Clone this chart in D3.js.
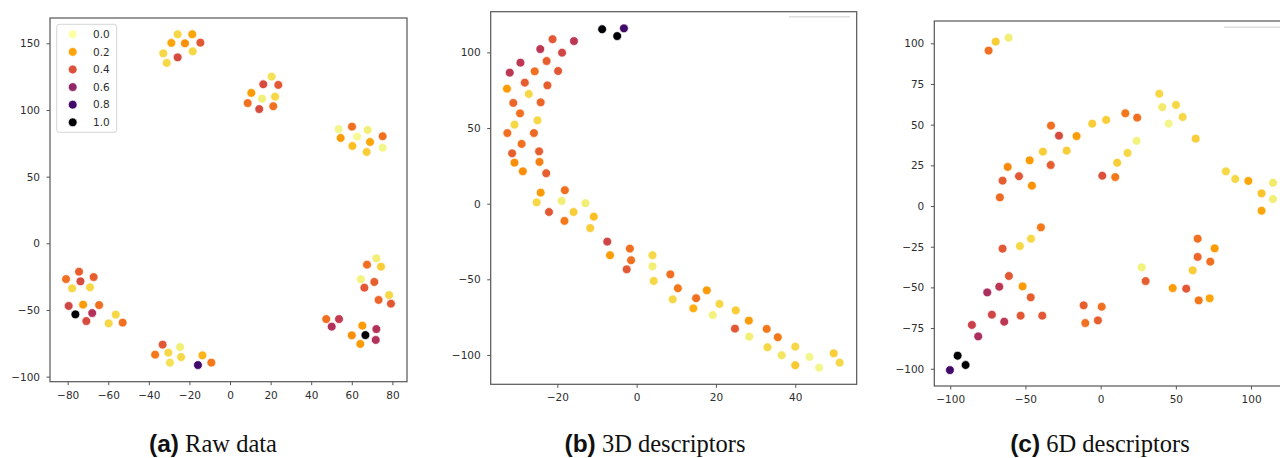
<!DOCTYPE html>
<html>
<head>
<meta charset="utf-8">
<script src="https://cdn.jsdelivr.net/npm/d3@7"></script>
<style>
  html, body { margin: 0; padding: 0; background: #fff; }
  svg { display: block; }
</style>
</head>
<body>
<div id="chart"></div>
<script>
// panel (a) raw data
const rawX = [-25.8,-18.6,-28.9,-22.2,-14.6,-32.9,-18.4,-25.8,-31.2,
  20.5,16.4,23.8,10.5,15.8,22.2,8.7,14.4,21.3,
  53.5,60.1,67.8,54.5,62.6,75.2,60.3,69,67.3,75.2,
  -80.8,-74.4,-73.7,-67.2,-77.8,-69,-79.5,-72.4,-64.5,-76.2,-67.9,-70.8,-56.3,-59.8,-52.9,
  -33.2,-36.9,-30.4,-24.6,-29.6,-24.1,-13.6,-15.8,-9.2,
  72.1,67.5,74.4,64.5,71.1,66.2,78.4,73.2,79.3,47.4,53.7,50.1,65.2,72.1,60,66.7,64.2,71.8];
const rawY = [156.8,156.8,150.3,150,150.5,142.5,144,139.5,135.3,
  125,119.3,118.8,112.8,108.5,110,105.2,100.7,102.8,
  85.7,87.5,85,79,80,80.3,73,76,68.5,71.7,
  -26.8,-21.3,-28.5,-25.3,-33.8,-33,-47,-46,-46.3,-53.3,-52.3,-58.3,-53.5,-60,-59.5,
  -76,-83.5,-82,-77.8,-89.5,-85.3,-84,-91.3,-89.5,
  -11.3,-16,-17.5,-27,-29,-33.3,-38.8,-42.5,-45.3,-56.8,-56.8,-62.5,-61.8,-64.3,-69,-68.8,-75.5,-72.5];
const rawV = [0.1,0.2,0.2,0.25,0.38,0.1,0.1,0.42,0.1,
  0.08,0.42,0.38,0.22,0.05,0.1,0.32,0.42,0.32,
  0.03,0.32,0.05,0.22,0.02,0.32,0.15,0.2,0.12,0.03,
  0.32,0.36,0.42,0.36,0.1,0.1,0.44,0.22,0.32,1,0.52,0.42,0.1,0.1,0.32,
  0.38,0.3,0.1,0.05,0.08,0.1,0.17,0.8,0.3,
  0.05,0.32,0.12,0.04,0.36,0.38,0.1,0.34,0.38,0.32,0.48,0.52,0.22,0.52,0.25,1,0.22,0.52];

// panel (b) 3D descriptors
const d3dX = [-8.7,-4.9,-3.2,-21.2,-15.8,-24.3,-18.8,-29.3,-22.7,-32,-25.7,-19.8,-28.2,-22.5,-32.7,-27.2,
  -31.1,-24.2,-29.4,-30.8,-25,-32.6,-25.9,-29,-24.6,-31.4,-30.8,-24.5,-28.7,-22.8,-24.2,-18.1,
  -25.2,-18.9,-12.9,-22.1,-15.9,-18.2,-10.8,-11.7,-7.4,-1.7,-6.7,-1.4,-2.5,4,4,4.3,8.5,10.4,
  17.7,9.1,15,20.9,14.3,19.2,25,28.3,24.8,28.4,32.8,35.6,33,36.6,40,40,43.6,46,49.7,51.2];
const d3dY = [115.3,110.8,115.9,108.7,107.5,102.2,99.8,93.2,94.3,86.6,87.5,87.7,80,78.2,76,72.5,
  66.6,67,59.7,52.2,55.1,46.7,46.7,39.5,34.6,33.3,27.1,27.6,21.4,20.1,7.3,8.9,
  0.9,1.8,0.3,-5.5,-5.5,-11.4,-8.6,-16.1,-25.1,-29.7,-34.1,-37.4,-43.4,-34.1,-41.4,-51.1,-46.7,-55.9,
  -57.3,-63.2,-62.5,-66.3,-69.2,-73.6,-70.5,-77.3,-82.6,-87.9,-82.8,-88.3,-94.9,-100.2,-94.5,-106.8,-101.3,-108.4,-98.9,-105.1];
const d3dV = [1,1,0.8,0.38,0.5,0.5,0.44,0.5,0.36,0.5,0.32,0.38,0.36,0.36,0.22,0.1,
  0.34,0.34,0.32,0.1,0.1,0.32,0.33,0.32,0.36,0.36,0.25,0.28,0.25,0.36,0.22,0.32,
  0.1,0.05,0.05,0.38,0.12,0.3,0.15,0.12,0.44,0.32,0.22,0.32,0.38,0.1,0.05,0.1,0.32,0.3,
  0.22,0.1,0.32,0.1,0.18,0.04,0.12,0.22,0.38,0.05,0.3,0.3,0.1,0.07,0.1,0.13,0.03,0.03,0.12,0.1];

// panel (c) 6D descriptors
const d6dX = [-74.5,-69.8,-61.2,39,41,50.1,45.2,54.5,63.2,16.4,24.3,-5.6,3.7,-33,-27.7,-16,-22.6,-38.4,
  -47.2,-61.8,-33.2,-65.2,-54.3,-45.7,-67,1.1,9.7,11,17.9,23.9,83.3,89.5,98.2,107,114.6,114.6,107,-39.7,
  -46.3,-53.7,-65.2,-61,-67.4,-75.4,-51.9,-46.5,-72.3,-53.2,-38.8,-64.1,-85.6,-81.4,-95.1,-89.8,-100.2,
  -11.3,0.7,-10.2,-1.8,27.3,29.9,47.9,56.9,64.5,75.8,64.5,72.9,61.2,65.2,72.5];
const d6dY = [95.5,101,103.4,69,60.8,62.1,50.6,54.7,41.4,57,54.3,50.6,52.9,49.4,43.2,43,34,33.4,
  28.1,24,25.2,15.6,18.3,12.5,5.3,18.6,17.8,26.6,32.6,40,21.3,16.6,15.4,7.8,14.3,4.3,-2.9,-13.1,
  -20.1,-24.6,-26.2,-43,-49.6,-53.1,-49.4,-56.1,-66.8,-67.4,-67.4,-71.1,-73.1,-80.1,-92,-97.7,-100.8,
  -61,-61.9,-71.9,-70.3,-37.7,-46.1,-50.4,-50.8,-20.1,-26,-31.3,-34.2,-39.5,-58,-56.7];
const d6dV = [0.32,0.12,0.05,0.1,0.06,0.1,0.03,0.1,0.12,0.3,0.32,0.12,0.12,0.32,0.42,0.22,0.12,0.12,
  0.22,0.26,0.36,0.37,0.38,0.24,0.33,0.4,0.3,0.12,0.1,0.04,0.1,0.1,0.2,0.14,0.06,0.05,0.2,0.3,
  0.1,0.1,0.38,0.38,0.5,0.54,0.22,0.36,0.44,0.38,0.38,0.5,0.46,0.54,1,1,0.8,
  0.36,0.32,0.32,0.36,0.04,0.36,0.22,0.38,0.32,0.22,0.34,0.32,0.12,0.3,0.2];

const legendLabels = ['0.0', '0.2', '0.4', '0.6', '0.8', '1.0'];
const legendValues = [0, 0.2, 0.4, 0.6, 0.8, 1.0];

const ticksA = {x: [-80, -60, -40, -20, 0, 20, 40, 60, 80], y: [-100, -50, 0, 50, 100, 150]};
const ticksB = {x: [-20, 0, 20, 40], y: [-100, -50, 0, 50, 100]};
const ticksC = {x: [-100, -50, 0, 50, 100], y: [-100, -75, -50, -25, 0, 25, 50, 75, 100]};

const captions = [['(a)', 'Raw data'], ['(b)', '3D descriptors'], ['(c)', '6D descriptors']];

const width = 1280, height = 458;
const color = v => d3.interpolateInferno(1 - v);

const svg = d3.select('#chart').append('svg')
    .attr('width', width)
    .attr('height', height)
    .attr('viewBox', `0 0 ${width} ${height}`);

svg.append('rect').attr('width', width).attr('height', height).attr('fill', '#fff');

const panels = [
  {xs: rawX, ys: rawY, vs: rawV, ticks: ticksA,
   xr: [50, 407], xd: [-88.7, 87.2], yr: [18, 381.7], yd: [169, -103.8], cx: 213},
  {xs: d3dX, ys: d3dY, vs: d3dV, ticks: ticksB,
   xr: [490.7, 856.7], xd: [-36.8, 55.5], yr: [11.7, 384.3], yd: [126.9, -119.4], cx: 655,
   stub: [789, 850, 16.7]},
  {xs: d6dX, ys: d6dY, vs: d6dV, ticks: ticksC,
   xr: [934.3, 1290], xd: [-110.6, 125.9], yr: [21, 386], yd: [113.7, -110.6], cx: 1100,
   stub: [1224, 1290, 27.3]}
];

panels.forEach((p, k) => {
  const x = d3.scaleLinear().domain(p.xd).range(p.xr);
  const y = d3.scaleLinear().domain(p.yd).range(p.yr);
  const g = svg.append('g');

  g.append('rect')
      .attr('x', p.xr[0]).attr('y', p.yr[0])
      .attr('width', p.xr[1] - p.xr[0]).attr('height', p.yr[1] - p.yr[0])
      .attr('fill', '#fff');

  // faint line left over from a hidden legend
  if (p.stub) {
    g.append('line')
        .attr('x1', p.stub[0]).attr('x2', p.stub[1])
        .attr('y1', p.stub[2]).attr('y2', p.stub[2])
        .attr('stroke', '#ddd').attr('stroke-width', 1.5);
  }

  const styleAxis = a => a
    .attr('font-family', '"DejaVu Sans", sans-serif')
    .attr('font-size', 10.5)
    .call(a => a.select('.domain').remove())
    .call(a => a.selectAll('.tick line').attr('stroke', '#555'))
    .call(a => a.selectAll('.tick text').attr('fill', '#2e2e2e'));

  g.append('g')
      .attr('transform', `translate(0,${p.yr[1]})`)
      .call(d3.axisBottom(x).tickValues(p.ticks.x).tickSize(3.5).tickPadding(6)
        .tickFormat(d => d < 0 ? '\u2212' + Math.abs(d) : d))
      .call(styleAxis);

  g.append('g')
      .attr('transform', `translate(${p.xr[0]},0)`)
      .call(d3.axisLeft(y).tickValues(p.ticks.y).tickSize(3.5).tickPadding(6.5)
        .tickFormat(d => d < 0 ? '\u2212' + Math.abs(d) : d))
      .call(styleAxis);

  g.append('g')
    .selectAll('circle')
    .data(p.xs.map((d, i) => i))
    .join('circle')
      .attr('cx', i => x(p.xs[i]))
      .attr('cy', i => y(p.ys[i]))
      .attr('r', 4.4)
      .attr('fill', i => color(p.vs[i]))
      .attr('stroke', '#fff')
      .attr('stroke-width', 0.7);

  g.append('rect')
      .attr('x', p.xr[0]).attr('y', p.yr[0])
      .attr('width', p.xr[1] - p.xr[0]).attr('height', p.yr[1] - p.yr[0])
      .attr('fill', 'none')
      .attr('stroke', '#555')
      .attr('stroke-width', 1.2);

  const cap = svg.append('text')
      .attr('x', p.cx)
      .attr('y', 451.5)
      .attr('text-anchor', 'middle')
      .attr('font-size', 24.5)
      .attr('fill', '#111');
  cap.append('tspan')
      .attr('font-family', '"Liberation Sans", Arial, sans-serif')
      .attr('font-weight', 'bold')
      .text(captions[k][0]);
  cap.append('tspan')
      .attr('font-family', '"Liberation Serif", "Times New Roman", serif')
      .text(' ' + captions[k][1]);
});

// legend in panel (a)
const legend = svg.append('g');
legend.append('rect')
    .attr('x', 56.7).attr('y', 24.3)
    .attr('width', 60).attr('height', 108)
    .attr('rx', 2.5)
    .attr('fill', '#fff')
    .attr('stroke', '#d6d6d6')
    .attr('stroke-width', 1);

const rows = legend.selectAll('g.row')
  .data(legendLabels)
  .join('g')
    .attr('class', 'row')
    .attr('transform', (d, i) => `translate(0,${34.3 + i * 17.6})`);

rows.append('circle')
    .attr('cx', 72.7)
    .attr('r', 4.4)
    .attr('fill', (d, i) => color(legendValues[i]))
    .attr('stroke', '#fff')
    .attr('stroke-width', 0.7);

rows.append('text')
    .attr('x', 93)
    .attr('dy', '0.36em')
    .attr('font-family', '"DejaVu Sans", sans-serif')
    .attr('font-size', 10.5)
    .attr('fill', '#2e2e2e')
    .text(d => d);
</script>
</body>
</html>
